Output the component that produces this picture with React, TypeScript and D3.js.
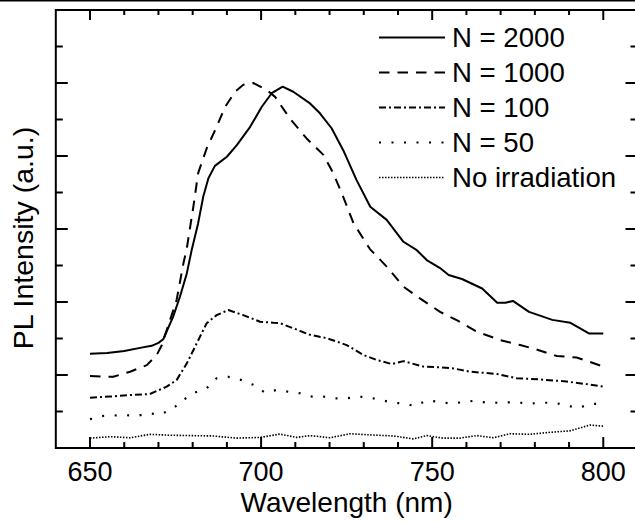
import React, { useEffect, useRef } from "react"
import * as d3 from "d3"

// values, [wavelength nm, intensity a.u.]
const n2000 = [
  [650, 2.58], [655, 2.6], [660, 2.66], [665, 2.75], [668, 2.8], [670, 2.88], [671.4, 2.98],
  [674.3, 3.6], [676.3, 4.15], [678.3, 4.79], [679.7, 5.42], [681.6, 6.16], [683.1, 6.89],
  [684.6, 7.39], [686.5, 7.73], [690, 7.98], [692.9, 8.3], [696.8, 8.8], [700.2, 9.35],
  [703.1, 9.72], [706.3, 9.9], [709.4, 9.76], [714.3, 9.44], [717.2, 9.17], [720.6, 8.76],
  [724, 8.16], [727.9, 7.34], [731.9, 6.61], [736.7, 6.25], [741.6, 5.65], [745.5, 5.42],
  [748.4, 5.15], [752.3, 4.93], [754.8, 4.74], [758.7, 4.63], [764.6, 4.37], [769, 3.98],
  [771.4, 3.98], [773.6, 4.03], [778.3, 3.73], [785.1, 3.51], [790.4, 3.43], [795.8, 3.14],
  [800, 3.14]
]
const n1000 = [
  [650, 1.97], [656.8, 1.95], [661.7, 2.09], [666.6, 2.27], [669.5, 2.55], [671, 2.82],
  [673.4, 3.51], [675.3, 4.05], [677.3, 5.06], [678.3, 5.48], [680.2, 6.61], [681.6, 7.53],
  [684.1, 8.21], [687, 8.8], [689.5, 9.35], [692.4, 9.76], [694.8, 9.95], [697.7, 10.0],
  [701.6, 9.81], [704.1, 9.62], [708.4, 9.03], [713.3, 8.48], [718.2, 8.03], [721.1, 7.53],
  [724, 6.88], [727, 6.16], [731.8, 5.45], [736.7, 4.97], [741.6, 4.42], [746.4, 4.1],
  [752.3, 3.73], [757.6, 3.48], [763, 3.19], [769.8, 2.96], [775.7, 2.82], [780.5, 2.7],
  [786.4, 2.52], [792.2, 2.48], [796.1, 2.36], [800, 2.23]
]
const n100 = [
  [650, 1.38], [655.8, 1.41], [661.7, 1.45], [667.5, 1.48], [672.4, 1.68], [675.3, 1.86],
  [678.3, 2.32], [681.2, 2.87], [684.1, 3.42], [687, 3.64], [690.4, 3.78], [694.8, 3.64],
  [699.7, 3.46], [703.6, 3.43], [705.5, 3.42], [709.4, 3.28], [714.3, 3.1], [719.2, 3.01],
  [725, 2.82], [729.9, 2.55], [733.8, 2.41], [738.2, 2.3], [741.6, 2.38], [747.4, 2.23],
  [752.3, 2.21], [756.2, 2.18], [761, 2.09], [768.8, 2.03], [774.7, 1.91], [781.5, 1.88],
  [789.3, 1.82], [795.1, 1.75], [800, 1.68]
]
const n50 = [
  [650, 0.79], [654, 0.88], [660, 0.9], [664, 0.885], [667, 0.95], [670.5, 0.92], [674, 1.06],
  [677.3, 1.32], [680.7, 1.52], [684.1, 1.64], [687, 1.91], [690.4, 1.95], [694.3, 1.86],
  [697.7, 1.73], [701.1, 1.52], [704.6, 1.59], [708, 1.54], [711.4, 1.5], [714.8, 1.41],
  [718.2, 1.41], [721.6, 1.36], [725, 1.36], [728.4, 1.41], [731.8, 1.38], [734.7, 1.32],
  [738.6, 1.24], [741.6, 1.22], [745, 1.15], [748.4, 1.3], [751.8, 1.27], [755.2, 1.22],
  [758.6, 1.25], [762, 1.29], [765.4, 1.25], [768.8, 1.24], [772.2, 1.25], [775.6, 1.24],
  [779, 1.22], [782.4, 1.24], [785.8, 1.24], [789.3, 1.16], [792.7, 1.1], [796.1, 1.2],
  [800, 1.22]
]
const noIrradiation = [
  [650, 0.27], [655.8, 0.31], [661.7, 0.28], [667.5, 0.375], [673.4, 0.35], [679.2, 0.34],
  [686, 0.33], [692.9, 0.27], [699.7, 0.29], [705.5, 0.38], [710.4, 0.29], [714.3, 0.34],
  [720.1, 0.28], [726, 0.39], [731.8, 0.36], [738.6, 0.33], [744.5, 0.25], [748.4, 0.34],
  [753.2, 0.27], [758.1, 0.27], [763, 0.34], [767.9, 0.28], [772.7, 0.39], [778.6, 0.375],
  [784.4, 0.43], [790.3, 0.47], [796.1, 0.63], [800, 0.6]
]

const seriesLabels = ["N = 2000", "N = 1000", "N = 100", "N = 50", "No irradiation"]
const xTickLabels = [650, 700, 750, 800]

const font = "'Liberation Sans', Arial, Helvetica, sans-serif"

function App() {
  const ref = useRef(null)

  useEffect(() => {
    const svg = d3.select(ref.current)
    svg.selectAll("*").remove()

    const x = d3.scaleLinear().domain([640, 810]).range([55.8, 637.5])
    const y = d3.scaleLinear().domain([0, 12]).range([448, 10])

    const styles = [
      { dash: null, w: 2 },
      { dash: "10.5,8", w: 2 },
      { dash: "7,3,2,3", w: 2 },
      { dash: "2,10.5", w: 2.2 },
      { dash: "1.5,1.5", w: 1.6 }
    ]
    const allSeries = [n2000, n1000, n100, n50, noIrradiation]

    // thin rule along the top edge of the figure
    svg.append("rect").attr("x", 0).attr("y", 0).attr("width", 635).attr("height", 1.5).attr("fill", "black")

    const line = d3.line().x(d => x(d[0])).y(d => y(d[1]))

    allSeries.forEach((data, i) => {
      svg.append("path")
        .datum(data)
        .attr("d", line)
        .attr("fill", "none")
        .attr("stroke", "black")
        .attr("stroke-width", styles[i].w)
        .attr("stroke-dasharray", styles[i].dash)
        .attr("stroke-linejoin", "round")
    })

    // frame
    const [x0, x1] = x.range()
    const [y0, y1] = y.range()
    svg.append("rect")
      .attr("x", x0).attr("y", y1)
      .attr("width", x1 - x0).attr("height", y0 - y1)
      .attr("fill", "none").attr("stroke", "black").attr("stroke-width", 2)

    // x ticks (bottom + top, inward)
    d3.range(650, 810, 10).forEach(v => {
      const major = v % 50 === 0
      const len = major ? 11 : 6
      svg.append("line").attr("x1", x(v)).attr("x2", x(v)).attr("y1", y0).attr("y2", y0 - len)
        .attr("stroke", "black").attr("stroke-width", 2)
      svg.append("line").attr("x1", x(v)).attr("x2", x(v)).attr("y1", y1).attr("y2", y1 + (major ? 10 : 5))
        .attr("stroke", "black").attr("stroke-width", 2)
    })
    // y ticks (left + right, inward)
    d3.range(1, 12).forEach(v => {
      const len = v % 2 === 0 ? 12 : 7
      svg.append("line").attr("x1", x0).attr("x2", x0 + len).attr("y1", y(v)).attr("y2", y(v))
        .attr("stroke", "black").attr("stroke-width", 2)
      svg.append("line").attr("x1", x1).attr("x2", x1 - len).attr("y1", y(v)).attr("y2", y(v))
        .attr("stroke", "black").attr("stroke-width", 2)
    })

    xTickLabels.forEach(v => {
      svg.append("text")
        .attr("x", x(v)).attr("y", 481)
        .attr("text-anchor", "middle")
        .attr("font-family", font).attr("font-size", 27)
        .text(v)
    })

    svg.append("text")
      .attr("x", (x0 + x1) / 2).attr("y", 512)
      .attr("text-anchor", "middle")
      .attr("font-family", font).attr("font-size", 28)
      .text("Wavelength (nm)")

    svg.append("text")
      .attr("transform", "translate(33,238) rotate(-90)")
      .attr("text-anchor", "middle")
      .attr("font-family", font).attr("font-size", 28.5)
      .text("PL Intensity (a.u.)")

    // legend
    seriesLabels.forEach((label, i) => {
      const base = 47 + 35 * i
      svg.append("line")
        .attr("x1", 379).attr("x2", 445)
        .attr("y1", base - 9.5).attr("y2", base - 9.5)
        .attr("stroke", "black")
        .attr("stroke-width", styles[i].w)
        .attr("stroke-dasharray", styles[i].dash)
      svg.append("text")
        .attr("x", 452).attr("y", base)
        .attr("font-family", font).attr("font-size", 27.6)
        .text(label)
    })
  }, [])

  return (
    <svg
      ref={ref}
      width={635}
      height={525}
      style={{ position: "absolute", left: 0, top: 0, background: "white" }}
    />
  )
}

export default App
